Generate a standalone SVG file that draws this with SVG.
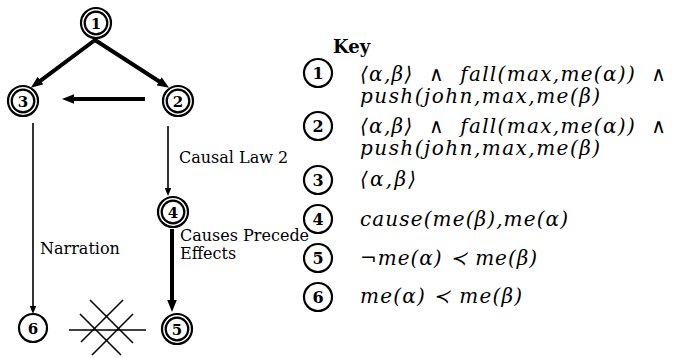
<svg xmlns="http://www.w3.org/2000/svg" width="697" height="358" viewBox="0 0 697 358">
<style>
 .ring{fill:none;stroke:#000;stroke-width:2.2}
 .num{font-family:"DejaVu Serif","Liberation Serif",serif;font-weight:bold;font-size:15px;text-anchor:middle;fill:#000}
 .knum{font-family:"DejaVu Serif","Liberation Serif",serif;font-weight:bold;font-size:16px;text-anchor:middle;fill:#000}
 .lbl{font-family:"DejaVu Serif","Liberation Serif",serif;font-size:16px;fill:#000}
 .key{font-family:"DejaVu Serif","Liberation Serif",serif;font-weight:bold;font-size:18px;fill:#000}
 .f{font-family:"DejaVu Serif","Liberation Serif",serif;font-style:italic;font-size:20px;fill:#000}
 .thick{stroke:#000;stroke-width:4;fill:none}
 .thin{stroke:#000;stroke-width:1.6;fill:none}
 .x{stroke:#000;stroke-width:1.6;fill:none}
</style>
<defs>
 <marker id="at" viewBox="0 0 10 8" refX="3" refY="4" markerWidth="3" markerHeight="2.4" orient="auto" markerUnits="strokeWidth"><path d="M0,0 L10,4 L0,8 z" fill="#000"/></marker>
 <marker id="as" viewBox="0 0 10 8" refX="3" refY="4" markerWidth="5" markerHeight="4" orient="auto" markerUnits="strokeWidth"><path d="M0,0 L10,4 L0,8 z" fill="#000"/></marker>
</defs>
<rect width="697" height="358" fill="#fff"/>
<g id="connectors">
 <line class="thick" x1="95" y1="40" x2="37.6" y2="82.8" marker-end="url(#at)" stroke-linecap="round"/>
 <line class="thick" x1="95" y1="40" x2="162" y2="83.3" marker-end="url(#at)" stroke-linecap="round"/>
 <line class="thick" x1="145" y1="99" x2="70.4" y2="99" marker-end="url(#at)"/>
 <line class="thin" x1="33" y1="123" x2="33" y2="308.4" marker-end="url(#as)"/>
 <line class="thin" x1="168" y1="126" x2="168" y2="190.4" marker-end="url(#as)"/>
 <line class="thick" x1="172" y1="229" x2="172" y2="303.6" marker-end="url(#at)"/>
 <text class="lbl" x="179" y="163">Causal Law 2</text>
 <text class="lbl" x="40" y="254">Narration</text>
 <text class="lbl" x="180" y="241">Causes Precede</text>
 <text class="lbl" x="180" y="259">Effects</text>
 <g id="blocked">
  <line class="x" x1="69" y1="330" x2="146" y2="330"/>
  <line class="x" x1="90" y1="300" x2="133" y2="343"/>
  <line class="x" x1="80" y1="314" x2="121" y2="355"/>
  <line class="x" x1="123" y1="300" x2="81" y2="342"/>
  <line class="x" x1="133" y1="314" x2="92" y2="355"/>
 </g>
</g>
<g id="n1"><circle class="ring" cx="96" cy="23" r="15"/><circle class="ring" cx="96" cy="23" r="11.3"/><text class="num" x="96" y="28.5">1</text></g>
<g id="n2"><circle class="ring" cx="178" cy="101" r="15"/><circle class="ring" cx="178" cy="101" r="11.3"/><text class="num" x="178" y="106.5">2</text></g>
<g id="n3"><circle class="ring" cx="23" cy="101" r="15"/><circle class="ring" cx="23" cy="101" r="11.3"/><text class="num" x="23" y="106.5">3</text></g>
<g id="n4"><circle class="ring" cx="173" cy="212" r="15"/><circle class="ring" cx="173" cy="212" r="11.3"/><text class="num" x="173" y="217.5">4</text></g>
<g id="n5"><circle class="ring" cx="177" cy="329" r="15"/><circle class="ring" cx="177" cy="329" r="11.3"/><text class="num" x="177" y="334.5">5</text></g>
<g id="n6"><circle class="ring" cx="33" cy="328" r="14"/><text class="num" x="33" y="333.5">6</text></g>
<g id="key">
 <text class="key" x="333" y="53">Key</text>
 <g id="k1"><circle class="ring" cx="318" cy="73" r="14"/><text class="knum" x="318" y="78.5">1</text>
  <text class="f" x="360" y="81" textLength="306">⟨α,β⟩&#160;&#160;∧&#160;&#160;fall(max,me(α))&#160;&#160;∧</text>
  <text class="f" x="360" y="103" textLength="240">push(john,max,me(β)</text></g>
 <g id="k2"><circle class="ring" cx="318" cy="126" r="14"/><text class="knum" x="318" y="131.5">2</text>
  <text class="f" x="360" y="133" textLength="306">⟨α,β⟩&#160;&#160;∧&#160;&#160;fall(max,me(α))&#160;&#160;∧</text>
  <text class="f" x="360" y="155" textLength="240">push(john,max,me(β)</text></g>
 <g id="k3"><circle class="ring" cx="318" cy="180" r="14"/><text class="knum" x="318" y="185.5">3</text>
  <text class="f" x="360" y="186" textLength="56">⟨α,β⟩</text></g>
 <g id="k4"><circle class="ring" cx="318" cy="219" r="14"/><text class="knum" x="318" y="224.5">4</text>
  <text class="f" x="360" y="226" textLength="208">cause(me(β),me(α)</text></g>
 <g id="k5"><circle class="ring" cx="318" cy="258" r="14"/><text class="knum" x="318" y="263.5">5</text>
  <text class="f" x="360" y="265" textLength="177">¬me(α)&#160;≺&#160;me(β)</text></g>
 <g id="k6"><circle class="ring" cx="318" cy="297" r="14"/><text class="knum" x="318" y="302.5">6</text>
  <text class="f" x="360" y="303" textLength="162">me(α)&#160;≺&#160;me(β)</text></g>
</g>
</svg>
